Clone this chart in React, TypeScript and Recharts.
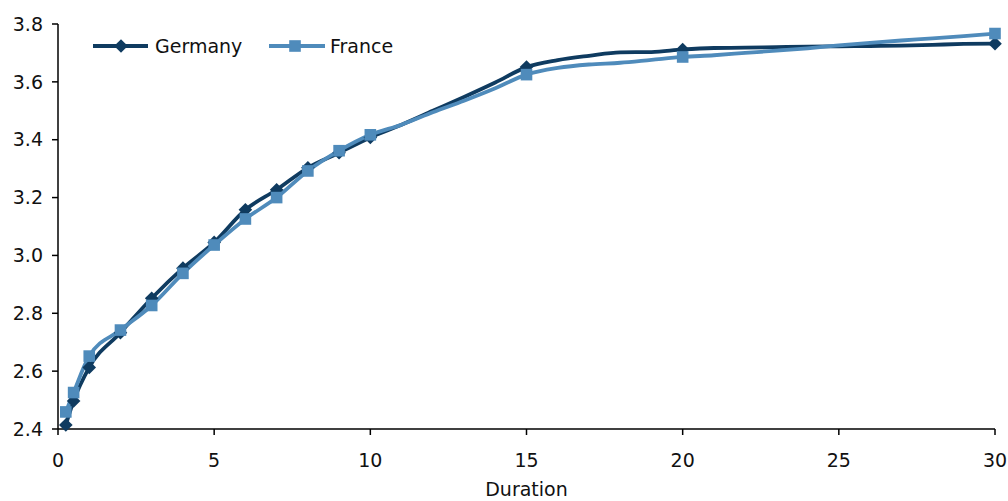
import React from "react";
import { LineChart, Line, XAxis, YAxis } from "recharts";

const durations = [0.25, 0.5, 1, 2, 3, 4, 5, 6, 7, 8, 9, 10, 11, 12, 13, 14, 15, 16, 17, 18, 19, 20, 21, 22, 23, 24, 25, 26, 27, 28, 29, 30];
const markedDurations = [0.25, 0.5, 1, 2, 3, 4, 5, 6, 7, 8, 9, 10, 15, 20, 30];
const germany = [2.414, 2.497, 2.613, 2.733, 2.852, 2.956, 3.045, 3.158, 3.227, 3.303, 3.355, 3.408, 3.452, 3.5, 3.548, 3.598, 3.651, 3.675, 3.69, 3.702, 3.703, 3.712, 3.717, 3.718, 3.72, 3.722, 3.723, 3.724, 3.725, 3.728, 3.731, 3.732];
const france = [2.459, 2.526, 2.652, 2.742, 2.827, 2.938, 3.036, 3.126, 3.2, 3.292, 3.362, 3.417, 3.452, 3.495, 3.535, 3.578, 3.625, 3.648, 3.66, 3.666, 3.676, 3.686, 3.692, 3.7, 3.708, 3.716, 3.726, 3.735, 3.743, 3.75, 3.758, 3.767];
const xTicks = [0, 5, 10, 15, 20, 25, 30];
const yTicks = [2.4, 2.6, 2.8, 3.0, 3.2, 3.4, 3.6, 3.8];
const seriesNames = ["Germany", "France"];

const GERMANY_COLOR = "#0f3b60";
const FRANCE_COLOR = "#4f8bbb";
const FONT = "'DejaVu Sans', sans-serif";
const FS = 19;

const data = durations.map((d, i) => ({
  duration: d,
  germany: germany[i],
  france: france[i],
  mark: markedDurations.includes(d),
}));

const DiamondDot = (props: any) => {
  const { cx, cy, payload, index } = props;
  if (!payload || !payload.mark || cx == null || cy == null) return <g key={`gd${index}`} />;
  const r = 6.8;
  return (
    <path
      key={`gd${index}`}
      d={`M${cx},${cy - r} L${cx + r},${cy} L${cx},${cy + r} L${cx - r},${cy} Z`}
      fill={GERMANY_COLOR}
    />
  );
};

const SquareDot = (props: any) => {
  const { cx, cy, payload, index } = props;
  if (!payload || !payload.mark || cx == null || cy == null) return <g key={`fs${index}`} />;
  const s = 5.8;
  return <rect key={`fs${index}`} x={cx - s} y={cy - s} width={2 * s} height={2 * s} fill={FRANCE_COLOR} />;
};

const LegendOverlay = () => (
  <svg
    width={340}
    height={30}
    style={{ position: "absolute", left: 91, top: 31, overflow: "visible", pointerEvents: "none" }}
  >
    <line x1={2} y1={15} x2={57} y2={15} stroke={GERMANY_COLOR} strokeWidth={3.8} />
    <path d="M30,8.2 L36.8,15 L30,21.8 L23.2,15 Z" fill={GERMANY_COLOR} />
    <text x={64} y={21.8} fontFamily={FONT} fontSize={FS} fill="#111">{seriesNames[0]}</text>
    <line x1={178} y1={15} x2={234} y2={15} stroke={FRANCE_COLOR} strokeWidth={3.8} />
    <rect x={198.2} y={9.2} width={11.6} height={11.6} fill={FRANCE_COLOR} />
    <text x={239} y={21.8} fontFamily={FONT} fontSize={FS} fill="#111">{seriesNames[1]}</text>
  </svg>
);

export default function App() {
  return (
    <div style={{ position: "absolute", left: 0, top: 0, width: 1008, height: 501, background: "#fff" }}>
      <LineChart width={1008} height={501} data={data} margin={{ top: 24, right: 13, bottom: 0, left: 0 }}>
        <XAxis
          dataKey="duration"
          type="number"
          domain={[0, 30]}
          ticks={xTicks}
          height={72}
          axisLine={{ stroke: "#000", strokeWidth: 1.5 }}
          tickLine={{ stroke: "#000", strokeWidth: 1.5 }}
          tickSize={6}
          tickMargin={19}
          tick={{ fill: "#111", fontSize: FS, fontFamily: FONT }}
          label={{ value: "Duration", position: "insideBottom", offset: 5, fill: "#111", fontSize: FS, fontFamily: FONT }}
        />
        <YAxis
          type="number"
          domain={[2.4, 3.8]}
          ticks={yTicks}
          width={58}
          axisLine={{ stroke: "#000", strokeWidth: 1.5 }}
          tickLine={{ stroke: "#000", strokeWidth: 1.5 }}
          tickSize={6}
          tickMargin={9}
          tickFormatter={(v: number) => v.toFixed(1)}
          tick={{ fill: "#111", fontSize: FS, fontFamily: FONT }}
        />
        <Line
          type="monotone"
          dataKey="germany"
          name={seriesNames[0]}
          stroke={GERMANY_COLOR}
          strokeWidth={3.8}
          dot={<DiamondDot />}
          activeDot={false}
          isAnimationActive={false}
        />
        <Line
          type="monotone"
          dataKey="france"
          name={seriesNames[1]}
          stroke={FRANCE_COLOR}
          strokeWidth={3.8}
          dot={<SquareDot />}
          activeDot={false}
          isAnimationActive={false}
        />
      </LineChart>
      <LegendOverlay />
    </div>
  );
}
